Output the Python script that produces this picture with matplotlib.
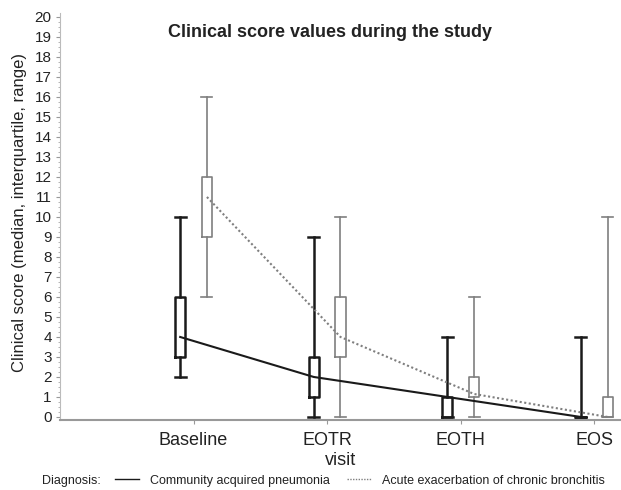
import numpy as np
import matplotlib.pyplot as plt
from matplotlib.lines import Line2D

plt.rcParams['font.family'] = ['Liberation Sans', 'DejaVu Sans']

visits = ['Baseline', 'EOTR', 'EOTH', 'EOS']

# Community acquired pneumonia: min, q1, median, q3, max
cap_min = [2, 0, 0, 0]
cap_q1 = [3, 1, 0, 0]
cap_med = [4, 2, 1, 0]
cap_q3 = [6, 3, 1, 0]
cap_max = [10, 9, 4, 4]

# Acute exacerbation of chronic bronchitis
aecb_min = [6, 0, 0, 0]
aecb_q1 = [9, 3, 1, 0]
aecb_med = [11, 4, 1.15, 0]
aecb_q3 = [12, 6, 2, 1]
aecb_max = [16, 10, 6, 10]


def make_stats(lo, q1, med, q3, hi):
    return [dict(whislo=a, q1=b, med=c, q3=d, whishi=e, fliers=[])
            for a, b, c, d, e in zip(lo, q1, med, q3, hi)]


fig = plt.figure(figsize=(6.21, 4.90), dpi=100)
ax = fig.add_axes([0.0966, 0.1429, 0.9034, 0.8306])

x = np.arange(1, len(visits) + 1)
off = 0.1
w = 0.075

dark = '#1a1a1a'
grey = '#7f7f7f'

ax.bxp(make_stats(cap_min, cap_q1, cap_med, cap_q3, cap_max),
       positions=x - off, widths=w, capwidths=w * 1.1, showfliers=False,
       boxprops=dict(color=dark, linewidth=1.8),
       whiskerprops=dict(color=dark, linewidth=1.8),
       capprops=dict(color=dark, linewidth=1.8),
       medianprops=dict(linewidth=0), manage_ticks=False)
ax.bxp(make_stats(aecb_min, aecb_q1, aecb_med, aecb_q3, aecb_max),
       positions=x + off, widths=w, capwidths=w * 1.1, showfliers=False,
       boxprops=dict(color=grey, linewidth=1.2),
       whiskerprops=dict(color=grey, linewidth=1.2),
       capprops=dict(color=grey, linewidth=1.2),
       medianprops=dict(linewidth=0), manage_ticks=False)

l1, = ax.plot(x - off, cap_med, color=dark, lw=1.5, zorder=3)
l2, = ax.plot(x + off, aecb_med, color=grey, lw=1.5, ls=(0, (1, 1.2)), zorder=3)

ax.set_xlim(0, 4.2)
ax.set_ylim(-0.15, 20.2)
ax.set_xticks(x)
ax.set_xticklabels(visits, fontsize=13, color='#222222')
ax.set_yticks(range(0, 21))
ax.set_yticklabels([str(v) for v in range(0, 21)], fontsize=11, color='#222222')
ax.set_yticks(np.arange(0, 20.01, 0.25), minor=True)
ax.tick_params(axis='y', which='major', length=3, color='#999999', pad=3)
ax.tick_params(axis='y', which='minor', length=1.5, color='#aaaaaa')
ax.tick_params(axis='x', length=3, color='#999999', pad=6)

for s in ['top', 'right']:
    ax.spines[s].set_visible(False)
ax.spines['left'].set_color('#bbbbbb')
ax.spines['left'].set_linewidth(0.8)
ax.spines['bottom'].set_color('#999999')
ax.spines['bottom'].set_linewidth(1.5)

ax.set_ylabel('Clinical score (median, interquartile, range)', fontsize=12,
              color='#222222', labelpad=4)
ax.yaxis.set_label_coords(-0.058, 0.51)
ax.set_xlabel('visit', fontsize=13, color='#222222', labelpad=2)

fig.text(0.531, 0.933, 'Clinical score values during the study',
         fontsize=13, fontweight='bold', ha='center', va='center', color='#222222')

fig.text(0.068, 0.019, 'Diagnosis:', fontsize=9, ha='left', va='center',
         color='#222222')
leg = fig.legend([Line2D([], [], color=dark, lw=1), Line2D([], [], color=grey, lw=1, ls=(0, (1, 1)))],
                 ['Community acquired pneumonia', 'Acute exacerbation of chronic bronchitis'],
                 loc='center left', bbox_to_anchor=(0.185, 0.019), ncol=2, frameon=False,
                 handlelength=1.9, handletextpad=0.9, columnspacing=1.4,
                 prop=dict(size=9), borderpad=0, borderaxespad=0)
for t in leg.get_texts():
    t.set_color('#222222')

fig.savefig('out.png', dpi=100)
